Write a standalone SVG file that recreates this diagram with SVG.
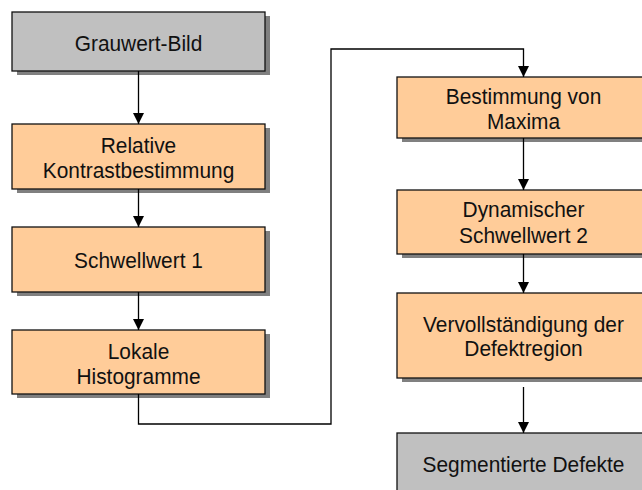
<svg xmlns="http://www.w3.org/2000/svg" width="642" height="490" viewBox="0 0 642 490">
<defs>
<marker id="ah" markerWidth="11" markerHeight="11" refX="11" refY="5.5" orient="auto" markerUnits="userSpaceOnUse">
<path d="M0,0 L11,5.5 L0,11 Z" fill="#000"/>
</marker>
<style>
.sh{fill:#808080}
.g{fill:#c0c0c0;stroke:#111;stroke-width:1.3}
.o{fill:#ffcc99;stroke:#111;stroke-width:1.3}
text{font-family:"Liberation Sans",Arial,sans-serif;font-size:22px;fill:#111;text-anchor:middle}
.c{fill:none;stroke:#000;stroke-width:1.3}
</style>
</defs>
<rect width="642" height="490" fill="#fff"/>
<g id="n1">
<rect class="sh" x="17" y="16" width="253" height="59"/>
<rect class="g" x="12" y="12" width="253" height="59"/>
<text transform="translate(138.5 50.5) scale(0.95 1)">Grauwert-Bild</text>
</g>
<g id="n2">
<rect class="sh" x="17" y="128" width="253" height="65"/>
<rect class="o" x="12" y="124" width="253" height="65"/>
<text transform="translate(138.5 152.5) scale(0.95 1)">Relative</text>
<text transform="translate(138.5 177.5) scale(0.95 1)">Kontrastbestimmung</text>
</g>
<g id="n3">
<rect class="sh" x="17" y="231" width="253" height="65"/>
<rect class="o" x="12" y="227" width="253" height="65"/>
<text transform="translate(138.5 268) scale(0.95 1)">Schwellwert 1</text>
</g>
<g id="n4">
<rect class="sh" x="17" y="334" width="253" height="64"/>
<rect class="o" x="12" y="330" width="253" height="64"/>
<text transform="translate(138.5 358.5) scale(0.95 1)">Lokale</text>
<text transform="translate(138.5 384) scale(0.95 1)">Histogramme</text>
</g>
<g id="n5">
<rect class="sh" x="402" y="81" width="253" height="61"/>
<rect class="o" x="397" y="77" width="253" height="61"/>
<text transform="translate(523.5 103.5) scale(0.95 1)">Bestimmung von</text>
<text transform="translate(523.5 128.5) scale(0.95 1)">Maxima</text>
</g>
<g id="n6">
<rect class="sh" x="402" y="194" width="253" height="64"/>
<rect class="o" x="397" y="190" width="253" height="64"/>
<text transform="translate(523.5 217) scale(0.95 1)">Dynamischer</text>
<text transform="translate(523.5 242.5) scale(0.95 1)">Schwellwert 2</text>
</g>
<g id="n7">
<rect class="sh" x="402" y="297" width="253" height="85"/>
<rect class="o" x="397" y="293" width="253" height="85"/>
<text transform="translate(523.5 331.5) scale(0.95 1)">Vervollständigung der</text>
<text transform="translate(523.5 356) scale(0.95 1)">Defektregion</text>
</g>
<g id="n8">
<rect class="sh" x="402" y="437" width="253" height="70"/>
<rect class="g" x="397" y="433" width="253" height="70"/>
<text transform="translate(523.5 472) scale(0.95 1)">Segmentierte Defekte</text>
</g>
<g id="connectors">
<path class="c" d="M138.5,71 V124" marker-end="url(#ah)"/>
<path class="c" d="M138.5,189 V227" marker-end="url(#ah)"/>
<path class="c" d="M138.5,292 V330" marker-end="url(#ah)"/>
<path class="c" d="M138.5,394 V424 H331 V49 H523.5 V77" marker-end="url(#ah)"/>
<path class="c" d="M523.5,138 V190" marker-end="url(#ah)"/>
<path class="c" d="M523.5,254 V293" marker-end="url(#ah)"/>
<path class="c" d="M523.5,387 V433" marker-end="url(#ah)"/>
</g>
</svg>
